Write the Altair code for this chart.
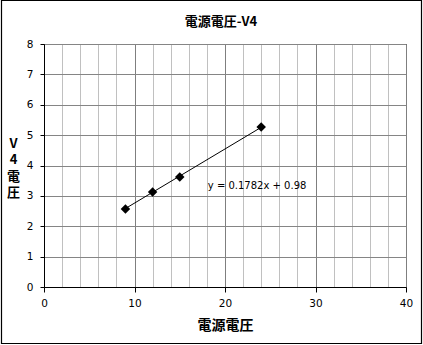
import altair as alt
import pandas as pd

# Measured points: supply voltage vs. V4 voltage
supply_voltage = [9, 12, 15, 24]
v4_voltage = [2.57, 3.13, 3.62, 5.27]

# Linear trendline coefficients shown on the chart
slope = 0.1782
intercept = 0.98
fit_range = [9, 24]

chart_title = "電源電圧-V4"
x_title = "電源電圧"
y_title = ["V", "4", "電", "圧"]

x_ticks = list(range(0, 41, 2))
y_ticks = list(range(0, 9))

CJK = "Noto Sans CJK JP"
LATIN = "DejaVu Sans"

points_df = pd.DataFrame({"x": supply_voltage, "y": v4_voltage})
fit_df = pd.DataFrame({"x": fit_range})
label_df = pd.DataFrame({
    "x": [18.1], "y": [3.33],
    "text": [f"y = {slope}x + {intercept}"],
})

x_scale = alt.Scale(domain=[0, 40], nice=False)
y_scale = alt.Scale(domain=[0, 8], nice=False)

x_axis = alt.Axis(
    values=x_ticks,
    labelExpr="datum.value % 10 === 0 ? datum.label : ''",
    gridColor={"condition": {"test": "datum.value % 10 === 0", "value": "#7f7f7f"},
               "value": "#c0c0c0"},
    tickOpacity={"condition": {"test": "datum.value % 10 === 0", "value": 1},
                 "value": 0},
    tickSize=5, tickColor="black", domainColor="black",
    labelFont=LATIN, labelFontSize=10.5, labelColor="black", labelPadding=6,
    labelFlush=False, labelOverlap=False,
    title=x_title, titleFont=CJK, titleFontSize=14, titleFontWeight="bold",
    titleColor="black", titleBaseline="middle", titleY=38, titleX=181,
)

y_axis = alt.Axis(
    values=y_ticks,
    gridColor="#858585",
    tickSize=4, tickColor="black", domainColor="black",
    labelFont=LATIN, labelFontSize=10.5, labelColor="black", labelPadding=7,
    labelOverlap=False,
    title=y_title, titleAngle=0, titleFont=CJK, titleFontSize=13,
    titleFontWeight="bold", titleColor="black", titleBaseline="top",
    titleAlign="center", titleLineHeight=16.5, titleX=-31, titleY=93,
)

X = alt.X("x:Q", scale=x_scale, axis=x_axis)
Y = alt.Y("y:Q", scale=y_scale, axis=y_axis)

points = alt.Chart(points_df).mark_point(
    shape="diamond", filled=True, color="black", size=90, opacity=1
).encode(x=X, y=Y)

trend = alt.Chart(fit_df).transform_calculate(
    y=f"{slope} * datum.x + {intercept}"
).mark_line(color="black", strokeWidth=1).encode(x=X, y=Y)

equation = alt.Chart(label_df).mark_text(
    align="left", baseline="middle", font=LATIN, fontSize=10, color="black"
).encode(x=X, y=Y, text="text:N")

# Chart title, centred over the plot area
title = alt.Chart(alt.Data(values=[{"t": chart_title}])).mark_text(
    font=CJK, fontSize=13, fontWeight="bold", color="black",
    align="center", baseline="middle"
).encode(x=alt.value(177), y=alt.value(-22), text="t:N")

# Outer border around the whole chart area
frame = alt.Chart(alt.Data(values=[{}])).mark_rect(
    fill=None, stroke="black", strokeWidth=1.2
).encode(
    x=alt.value(-42.5), x2=alt.value(377.5),
    y=alt.value(-43.5), y2=alt.value(299.5),
)

chart = alt.layer(trend, points, equation, title, frame).properties(
    width=362,
    height=243,
    padding={"left": 44, "top": 44, "right": 17, "bottom": 58},
    autosize=alt.AutoSizeParams(type="none"),
    background="white",
).configure_view(
    stroke="black", strokeWidth=1
)

chart.save("out.html", embed_options={"renderer": "svg", "actions": False})
